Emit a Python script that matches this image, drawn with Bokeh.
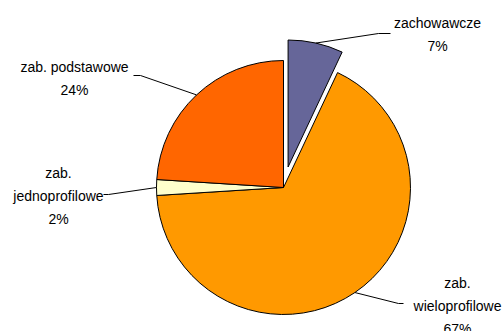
import numpy as np
from bokeh.plotting import figure
from bokeh.models import Range1d, ColumnDataSource
from bokeh.embed import file_html
from bokeh.resources import INLINE
from bokeh.core.properties import value

# ---- data ----
categories = ["zachowawcze", "zab. wieloprofilowe", "zab. jednoprofilowe", "zab. podstawowe"]
shares = [7, 67, 2, 24]
pct_labels = ["7%", "67%", "2%", "24%"]
colors = ["#666699", "#FF9900", "#FFFFCC", "#FF6600"]
label_lines = [["zachowawcze"], ["zab.", "wieloprofilowe"], ["zab.", "jednoprofilowe"], ["zab. podstawowe"]]

# ---- layout (reference pixel coords; y flipped below) ----
W, H = 503, 331
cx, cy_px = 283, 187
R = 127
explode = [21, 0, 0, 0]
label_pos = [(437, 22), (457, 282), (58, 172), (74, 66)]   # x centre, first line y (px)
line_step = 23
leader_elbow = [[(378, 33), (390, 33)], [(398, 303), (403, 303)],
                [(108, 194), (103, 194)], [(140, 75), (133, 75)]]

def Y(py):
    return H - py

p = figure(width=W, height=H, x_range=Range1d(0, W), y_range=Range1d(0, H),
           output_backend="svg", toolbar_location=None, min_border=0)
p.axis.visible = False
p.grid.visible = False
p.outline_line_color = None

total = float(sum(shares))
cum = np.concatenate([[0.0], np.cumsum(shares)]) / total
start = np.pi / 2 - 2 * np.pi * cum[:-1]
end = np.pi / 2 - 2 * np.pi * cum[1:]
mid = (start + end) / 2

xs_c = [cx + e * np.cos(m) for e, m in zip(explode, mid)]
ys_c = [Y(cy_px) + e * np.sin(m) for e, m in zip(explode, mid)]

src = ColumnDataSource(dict(x=xs_c, y=ys_c, start=start, end=end, color=colors, cat=categories))
p.wedge(x="x", y="y", radius=R, radius_units="screen", start_angle="start", end_angle="end",
        direction="clock", fill_color="color", line_color="black", line_width=1, source=src)

# leader lines
lx, ly = [], []
for i in range(len(shares)):
    ax = xs_c[i] + R * np.cos(mid[i])
    ay = ys_c[i] + R * np.sin(mid[i])
    lx.append([ax] + [pt[0] for pt in leader_elbow[i]])
    ly.append([ay] + [Y(pt[1]) for pt in leader_elbow[i]])
p.multi_line(xs=lx, ys=ly, line_color="black", line_width=1)

# labels
tx, ty, tt = [], [], []
for i in range(len(shares)):
    lines = label_lines[i] + [pct_labels[i]]
    x0, y0 = label_pos[i]
    for k, s in enumerate(lines):
        tx.append(x0)
        ty.append(Y(y0 + k * line_step))
        tt.append(s)
p.text(x=tx, y=ty, text=tt, text_font=value("Liberation Sans"), text_font_size="14px",
       text_align="center", text_baseline="middle", text_color="black")

open("out.html", "w").write(file_html(p, INLINE))
